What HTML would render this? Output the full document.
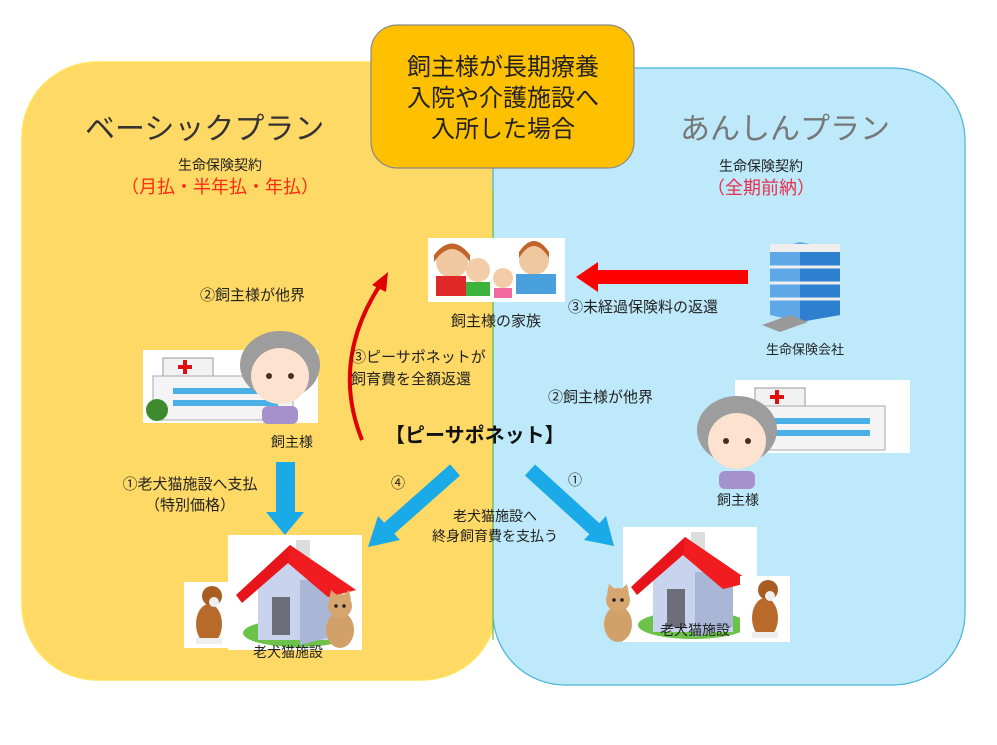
<!DOCTYPE html>
<html><head><meta charset="utf-8">
<style>
body{margin:0;width:997px;height:745px;background:#fff;position:relative;overflow:hidden;font-family:"Liberation Sans","Noto Sans CJK JP",sans-serif;}
.t{position:absolute;white-space:nowrap;color:#222;font-size:14px;line-height:1;}
.c{transform:translateX(-50%);text-align:center;}
</style></head><body>
<svg width="997" height="745" style="position:absolute;left:0;top:0">
<defs>
<g id="house">
<rect x="0" y="0" width="134" height="115" fill="#fff"/>
<ellipse cx="70" cy="98" rx="55" ry="14" fill="#6dc24a"/>
<polygon points="30,50 66,20 110,50 110,105 30,105" fill="#c8d4ee"/>
<polygon points="72,45 110,45 110,100 72,110" fill="#a9b6d6"/>
<rect x="44" y="62" width="18" height="38" fill="#6c6f7a"/>
<rect x="68" y="5" width="14" height="25" fill="#ddd"/>
<polygon points="8,60 62,10 128,55 100,62 60,28 14,68" fill="#e8141b"/>
<polygon points="62,10 128,55 100,62 60,28" fill="#f01c20"/>
</g>
<g id="dog">
<rect x="0" y="0" width="50" height="66" fill="#fff"/>
<ellipse cx="25" cy="42" rx="13" ry="20" fill="#b86a2a"/>
<ellipse cx="28" cy="14" rx="10" ry="10" fill="#a85d22"/>
<ellipse cx="30" cy="20" rx="5" ry="5" fill="#eee"/>
<rect x="12" y="56" width="26" height="6" fill="#eee"/>
</g>
<g id="cat">
<ellipse cx="22" cy="40" rx="14" ry="18" fill="#d2a069"/>
<circle cx="22" cy="16" r="12" fill="#d7a56e"/>
<polygon points="11,10 13,0 20,6" fill="#d7a56e"/><polygon points="33,10 31,0 24,6" fill="#d7a56e"/>
<circle cx="18" cy="16" r="1.8" fill="#222"/><circle cx="26" cy="16" r="1.8" fill="#222"/>
</g>
<g id="granny">
<ellipse cx="40" cy="35" rx="40" ry="34" fill="#9d9d9d"/>
<ellipse cx="40" cy="46" rx="29" ry="28" fill="#fce2cf"/>
<path d="M12,30 Q40,5 68,30 L68,22 Q40,0 12,22Z" fill="#9d9d9d"/>
<circle cx="29" cy="46" r="3" fill="#4a2c1a"/><circle cx="51" cy="46" r="3" fill="#4a2c1a"/>
<rect x="22" y="76" width="36" height="18" rx="6" fill="#a592cc"/>
</g>
<g id="hosp">
<rect x="0" y="0" width="175" height="73" fill="#fff"/>
<rect x="20" y="8" width="50" height="22" fill="#f2f2f2" stroke="#999"/>
<rect x="40" y="10" width="4" height="14" fill="#e01010"/><rect x="35" y="15" width="14" height="4" fill="#e01010"/>
<rect x="10" y="26" width="140" height="44" fill="#f4f4f4" stroke="#aaa"/>
<rect x="30" y="38" width="105" height="6" fill="#4ab0e6"/>
<rect x="30" y="50" width="105" height="6" fill="#4ab0e6"/>
</g>
</defs>
<rect x="22" y="62" width="475" height="618" rx="75" fill="#FFD966" stroke="#ffe45a" stroke-width="1.5"/>
<rect x="493" y="68" width="472" height="617" rx="72" fill="#BDE9FA" stroke="#4ab3d8" stroke-width="1.2"/>
<line x1="493" y1="190" x2="493" y2="640" stroke="#6cc24a" stroke-width="1.2"/>
<rect x="371" y="25" width="263" height="143" rx="26" fill="#FFC000" stroke="#888" stroke-width="1.2"/>
<!-- family -->
<rect x="428" y="238" width="137" height="64" fill="#fff"/>
<circle cx="452" cy="262" r="16" fill="#f0c8a0"/><path d="M434,262 Q452,236 470,262 L470,255 Q452,232 434,255Z" fill="#c0642a"/>
<rect x="436" y="276" width="30" height="20" fill="#e02828"/>
<circle cx="478" cy="270" r="12" fill="#f3cda8"/><rect x="466" y="282" width="24" height="14" fill="#3cb43c"/>
<circle cx="503" cy="278" r="10" fill="#f3cda8"/><rect x="494" y="288" width="18" height="10" fill="#f06aa0"/>
<circle cx="534" cy="260" r="15" fill="#f0c8a0"/><path d="M519,258 Q534,234 549,258 L549,252 Q534,230 519,252Z" fill="#c0642a"/>
<rect x="516" y="274" width="40" height="20" fill="#4aa0dc"/>
<!-- red arrow -->
<rect x="592" y="270" width="156" height="14" fill="#ff0000"/>
<polygon points="576,277 598,262 598,292" fill="#ff0000"/>
<!-- building -->
<polygon points="770,250 800,242 840,250 840,315 800,322 770,315" fill="#5ea8e8"/>
<polygon points="800,250 840,250 840,315 800,322" fill="#2f7fd0"/>
<rect x="770" y="244" width="70" height="8" fill="#eee"/>
<g stroke="#eee" stroke-width="3"><line x1="770" y1="267" x2="840" y2="267"/><line x1="770" y1="283" x2="840" y2="283"/><line x1="770" y1="299" x2="840" y2="299"/></g>
<polygon points="762,325 790,315 808,322 780,332" fill="#999"/>
<!-- left hospital & granny -->
<use href="#hosp" x="143" y="350"/>
<circle cx="157" cy="410" r="11" fill="#3e8a2e"/>
<use href="#granny" x="240" y="330"/>
<!-- right -->
<use href="#hosp" x="735" y="380"/>
<use href="#granny" x="697" y="395"/>
<!-- curved red arrow -->
<path d="M362,440 Q330,360 382,282" fill="none" stroke="#e00000" stroke-width="4"/>
<polygon points="388,272 372,285 386,292" fill="#e00000"/>
<!-- blue arrows -->
<rect x="276" y="462" width="19" height="52" fill="#1AAAE8"/>
<polygon points="266,512 304,512 285,535" fill="#1AAAE8"/>
<line x1="455" y1="470" x2="385" y2="532" stroke="#1AAAE8" stroke-width="15"/>
<polygon points="368,547 378,516 400,540" fill="#1AAAE8"/>
<line x1="530" y1="470" x2="598" y2="532" stroke="#1AAAE8" stroke-width="15"/>
<polygon points="614,546 584,540 606,516" fill="#1AAAE8"/>
<!-- houses -->
<use href="#house" x="228" y="535"/>
<use href="#dog" x="184" y="582"/>
<use href="#cat" x="318" y="590"/>
<use href="#house" x="623" y="527"/>
<use href="#cat" x="596" y="584"/>
<use href="#dog" x="740" y="576"/>
</svg>

<div class="t c" style="left:503px;top:52px;font-size:24px;line-height:31px;color:#222">飼主様が長期療養<br>入院や介護施設へ<br>入所した場合</div>
<div class="t" style="left:85px;top:115px;font-size:30px;color:#333;letter-spacing:0px">ベーシックプラン</div>
<div class="t" style="left:680px;top:115px;font-size:30px;color:#777;letter-spacing:0px">あんしんプラン</div>
<div class="t c" style="left:220px;top:158px;font-size:14px">生命保険契約</div>
<div class="t c" style="left:220px;top:178px;font-size:18px;color:#ff2a10">（月払・半年払・年払）</div>
<div class="t c" style="left:761px;top:159px;font-size:14px">生命保険契約</div>
<div class="t c" style="left:761px;top:179px;font-size:18px;color:#e8304a">（全期前納）</div>
<div class="t c" style="left:496px;top:314px;font-size:15px">飼主様の家族</div>
<div class="t" style="left:568px;top:300px;font-size:15px">③未経過保険料の返還</div>
<div class="t c" style="left:805px;top:343px;font-size:13px">生命保険会社</div>
<div class="t" style="left:200px;top:288px;font-size:15px">②飼主様が他界</div>
<div class="t" style="left:351px;top:347px;line-height:22px;font-size:15px">③ピーサポネットが<br>飼育費を全額返還</div>
<div class="t c" style="left:292px;top:435px">飼主様</div>
<div class="t" style="left:385px;top:426px;font-size:20px;font-weight:bold;color:#111">【ピーサポネット】</div>
<div class="t" style="left:548px;top:390px;font-size:15px">②飼主様が他界</div>
<div class="t c" style="left:738px;top:493px">飼主様</div>
<div class="t c" style="left:190px;top:474px;line-height:21px;font-size:15px">①老犬猫施設へ支払<br>（特別価格）</div>
<div class="t" style="left:391px;top:476px">④</div>
<div class="t" style="left:568px;top:473px">①</div>
<div class="t c" style="left:495px;top:506px;line-height:20px">老犬猫施設へ<br>終身飼育費を支払う</div>
<div class="t c" style="left:288px;top:645px">老犬猫施設</div>
<div class="t c" style="left:695px;top:623px">老犬猫施設</div>
</body></html>
